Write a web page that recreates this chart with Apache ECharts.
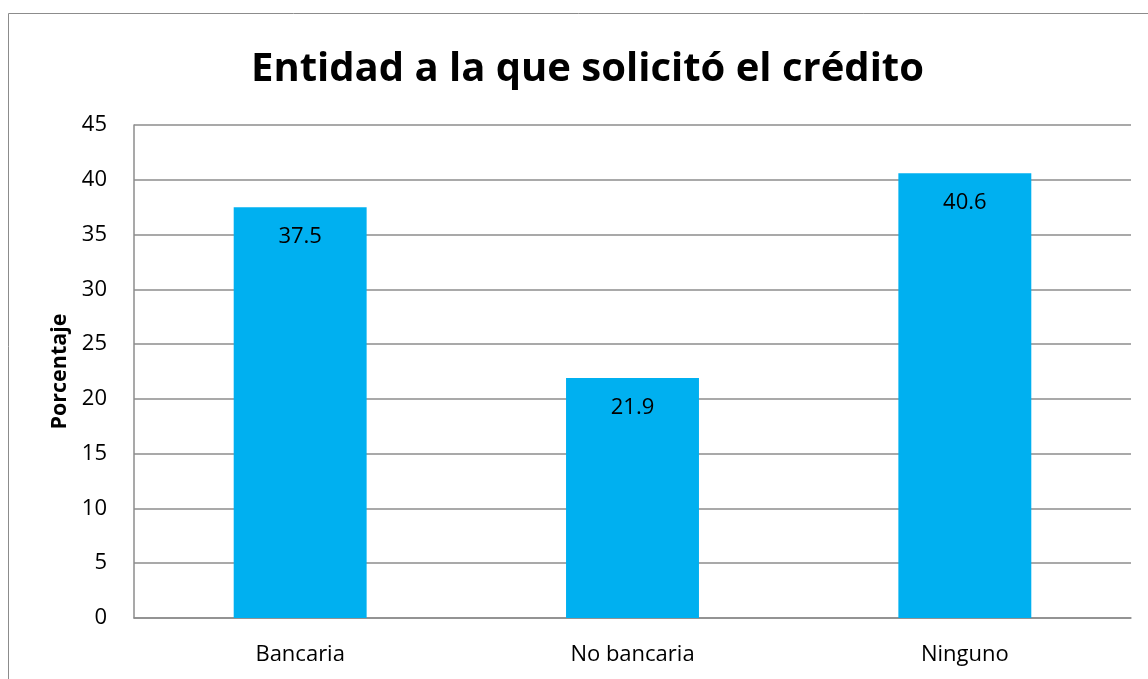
<!DOCTYPE html>
<html>
<head>
<meta charset="utf-8">
<script src="https://cdn.jsdelivr.net/npm/echarts@6/dist/echarts.min.js"></script>
<style>html,body{margin:0;padding:0;background:#fff;}#c{width:1148px;height:679px;}</style>
</head>
<body>
<div id="c"></div>
<script>
const categories = ['Bancaria', 'No bancaria', 'Ninguno'];
const values = [37.5, 21.9, 40.6];
const titleText = 'Entidad a la que solicitó el crédito';
const yAxisName = 'Porcentaje';

const font = 'Open Sans';
const chart = echarts.init(document.getElementById('c'), null, {renderer: 'canvas'});
chart.setOption({
  animation: false,
  backgroundColor: '#fff',
  graphic: [{
    type: 'rect', silent: true, z: -1,
    shape: {x: 8.5, y: 13.5, width: 1200, height: 700},
    style: {fill: 'none', stroke: '#8c8c8c', lineWidth: 1}
  }],
  title: {
    text: titleText, left: 246, top: 45,
    textStyle: {fontFamily: font, fontWeight: 'bold', fontSize: 40, color: '#000'}
  },
  grid: {left: 134, right: 17, top: 125, bottom: 61, containLabel: false},
  xAxis: {
    type: 'category', data: categories,
    axisLine: {show: true, lineStyle: {color: '#8c8c8c', width: 1.5}},
    axisTick: {show: false},
    axisLabel: {fontFamily: font, fontSize: 22, color: '#000', margin: 26}
  },
  yAxis: {
    type: 'value', min: 0, max: 45, interval: 5,
    name: yAxisName, nameLocation: 'middle', nameGap: 62, nameRotate: 90,
    nameTextStyle: {fontFamily: font, fontWeight: 'bold', fontSize: 21.5, color: '#000'},
    axisLine: {show: true, lineStyle: {color: '#8c8c8c', width: 1.5}},
    axisTick: {show: false},
    splitLine: {show: true, lineStyle: {color: '#8c8c8c', width: 1.5}},
    axisLabel: {fontFamily: font, fontSize: 22, color: '#000', margin: 27}
  },
  series: [{
    type: 'bar', data: values, barWidth: '40%',
    itemStyle: {color: '#00B0F0'},
    label: {show: true, position: 'insideTop', distance: 19, fontFamily: font, fontSize: 22, color: '#000'}
  }]
});
</script>
</body>
</html>
